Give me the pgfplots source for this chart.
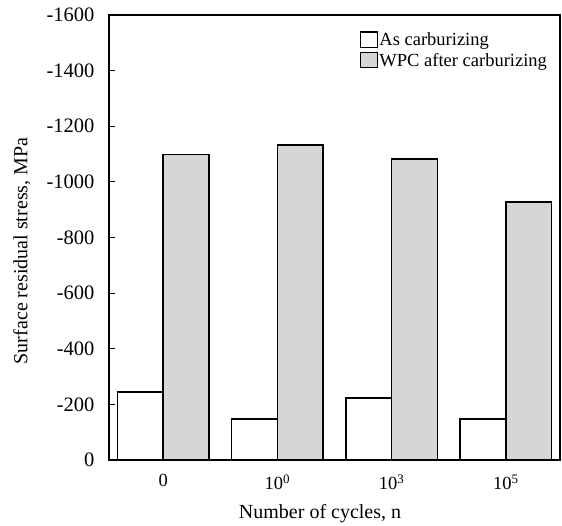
\documentclass[border=0pt]{standalone}
\usepackage{pgfplots}
\pgfplotsset{compat=1.18}
\usepackage{fontspec}
\setmainfont{Liberation Serif}
\definecolor{barfill}{RGB}{214,214,214}
\pgfplotsset{sqlegend/.style={legend image code/.code={\draw[##1, line width=1.2pt] (0pt,-7.5pt) rectangle (17pt,8pt);}}}

\begin{document}
\begin{tikzpicture}
\begin{axis}[
  scale only axis, width=451pt, height=445pt,
  xmin=-0.475, xmax=3.475,
  ymin=-1600, ymax=0, y dir=reverse,
  ytick={-1600,-1400,...,0},
  yticklabels={-1600,-1400,-1200,-1000,-800,-600,-400,-200,0},
  ytick pos=left, tick align=inside, major tick length=6pt,
  ytick style={line width=1pt, black},
  xtick={0,1,2,3},
  xticklabels={0,10\textsuperscript{0},10\textsuperscript{3},10\textsuperscript{5}},
  xtick style={draw=none},
  axis line style={line width=2.2pt},
  yticklabel style={font=\fontsize{20.5}{23}\selectfont, xshift=-11pt},
  xticklabel style={font=\fontsize{18.5}{21}\selectfont, yshift=-11pt},
  ylabel={Surface residual stress, MPa},
  xlabel={Number of cycles, n},
  label style={font=\fontsize{20}{22}\selectfont},
  ylabel style={at={(axis description cs:-0.193,0.47)}, anchor=center, rotate=0},
  xlabel style={at={(axis description cs:0.468,-0.12)}, anchor=center},
  legend style={draw=none, fill=none, at={(axis description cs:0.55,0.968)}, anchor=north west,
    font=\fontsize{18.5}{20}\selectfont, row sep=3.5pt, nodes={inner sep=1pt}},
  legend cell align=left,
]
\addplot[ybar, bar width=0.4, bar shift=-0.2, fill=white, draw=black, line width=1.5pt, sqlegend]
  coordinates {(0,-245) (1,-148) (2,-223) (3,-148)};
\addplot[ybar, bar width=0.4, bar shift=0.2, fill=barfill, draw=black, line width=1.5pt, sqlegend]
  coordinates {(0,-1098) (1,-1133) (2,-1083) (3,-928)};
\legend{As carburizing, WPC after carburizing}
\end{axis}
\path[use as bounding box] ([xshift=-109pt,yshift=-65pt]current axis.south west) rectangle ([xshift=2pt,yshift=15pt]current axis.north east);
\end{tikzpicture}
\end{document}
